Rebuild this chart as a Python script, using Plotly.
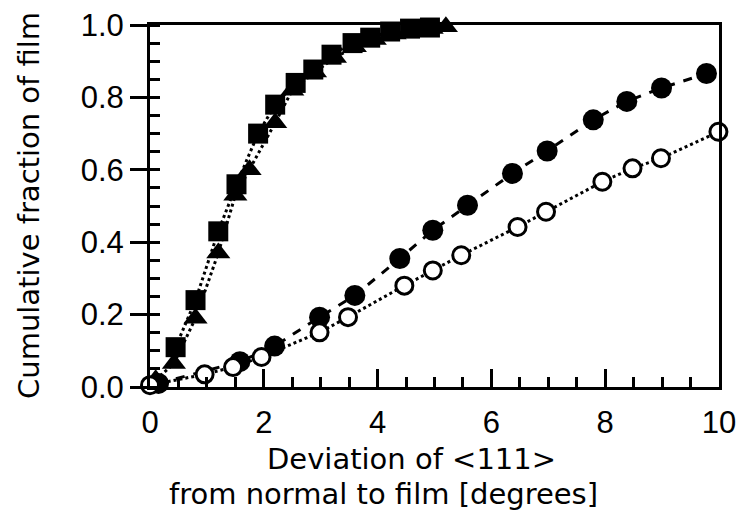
import plotly.graph_objects as go

# Data
sq_x = [0.45, 0.8, 1.2, 1.52, 1.9, 2.2, 2.56, 2.87, 3.19, 3.56, 3.87, 4.22, 4.57, 4.92]
sq_y = [0.11, 0.24, 0.43, 0.56, 0.70, 0.78, 0.84, 0.877, 0.918, 0.95, 0.965, 0.982, 0.99, 0.993]

tri_x = [0.1, 0.42, 0.8, 1.2, 1.5, 1.75, 2.2, 2.5, 2.9, 3.25, 3.6, 3.95, 4.3, 4.65, 4.95, 5.2]
tri_y = [0.02, 0.065, 0.19, 0.37, 0.53, 0.60, 0.73, 0.82, 0.87, 0.91, 0.94, 0.96, 0.975, 0.985, 0.99, 0.995]

fc_x = [0.15, 1.58, 2.19, 2.98, 3.6, 4.39, 4.97, 5.58, 6.37, 6.98, 7.79, 8.38, 8.99, 9.78]
fc_y = [0.01, 0.07, 0.113, 0.193, 0.253, 0.355, 0.433, 0.502, 0.59, 0.652, 0.738, 0.789, 0.826, 0.866]

oc_x = [0.0, 0.96, 1.46, 1.96, 2.98, 3.48, 4.47, 4.97, 5.47, 6.46, 6.96, 7.95, 8.48, 8.98, 9.99]
oc_y = [0.005, 0.035, 0.055, 0.083, 0.151, 0.193, 0.28, 0.322, 0.364, 0.442, 0.484, 0.567, 0.604, 0.632, 0.705]

x_ticks = [0, 2, 4, 6, 8, 10]
y_ticks = [0.0, 0.2, 0.4, 0.6, 0.8, 1.0]
y_tick_text = ["0.0", "0.2", "0.4", "0.6", "0.8", "1.0"]

x_title_1 = "Deviation of &lt;111&gt;"
x_title_2 = "from normal to film [degrees]"
y_title = "Cumulative fraction of film"

W, H = 741, 511
L, R, T, B = 150, 22, 25, 124
PW, PH = W - L - R, H - T - B


def px_x(fx):
    return (fx - L) / PW


def px_y(fy):
    return (T + PH - fy) / PH


fig = go.Figure()
fig.add_trace(go.Scatter(x=tri_x, y=tri_y, mode="lines+markers",
                         line=dict(color="black", width=3, dash="dot"),
                         marker=dict(symbol="triangle-up", size=21, color="black"),
                         showlegend=False, cliponaxis=False))
fig.add_trace(go.Scatter(x=sq_x, y=sq_y, mode="lines+markers",
                         line=dict(color="black", width=3, dash="dot"),
                         marker=dict(symbol="square", size=20, color="black"),
                         showlegend=False, cliponaxis=False))
fig.add_trace(go.Scatter(x=fc_x, y=fc_y, mode="lines+markers",
                         line=dict(color="black", width=3, dash="dash"),
                         marker=dict(symbol="circle", size=21, color="black"),
                         showlegend=False, cliponaxis=False))
fig.add_trace(go.Scatter(x=oc_x, y=oc_y, mode="lines+markers",
                         line=dict(color="black", width=3, dash="dot"),
                         marker=dict(symbol="circle", size=17, color="white",
                                     line=dict(color="black", width=3)),
                         showlegend=False, cliponaxis=False))

title_font = dict(size=29, family="DejaVu Sans, Verdana, sans-serif", color="black")

fig.update_layout(
    width=W, height=H,
    margin=dict(l=L, r=R, t=T, b=B),
    paper_bgcolor="white", plot_bgcolor="white",
    font=dict(family="Liberation Sans, Arial, sans-serif", color="black"),
    xaxis=dict(
        range=[0, 10], tickvals=x_ticks, ticktext=[str(v) for v in x_ticks],
        ticks="inside", ticklen=18, tickwidth=2.5, tickcolor="black",
        minor=dict(dtick=0.5, tick0=0, ticks="inside", ticklen=10, tickwidth=2.5, tickcolor="black"),
        showline=True, linewidth=3, linecolor="black", mirror=True,
        showgrid=False, zeroline=False, automargin=False,
        ticklabelstandoff=6,
        tickfont=dict(size=31, family="Liberation Sans, Arial, sans-serif"),
    ),
    yaxis=dict(
        range=[0, 1.0], tickvals=y_ticks, ticktext=y_tick_text,
        ticks="outside", ticklen=17, tickwidth=2.5, tickcolor="black",
        minor=dict(dtick=0.05, tick0=0, ticks="inside", ticklen=10, tickwidth=2.5, tickcolor="black"),
        showline=True, linewidth=3, linecolor="black", mirror=True,
        showgrid=False, zeroline=False, automargin=False,
        tickfont=dict(size=31, family="Liberation Sans, Arial, sans-serif"),
    ),
    annotations=[
        dict(text=x_title_1, xref="paper", yref="paper",
             x=px_x(411), y=px_y(459),
             xanchor="center", yanchor="middle", showarrow=False, font=title_font),
        dict(text=x_title_2, xref="paper", yref="paper",
             x=px_x(383), y=px_y(494),
             xanchor="center", yanchor="middle", showarrow=False, font=title_font),
        dict(text=y_title, xref="paper", yref="paper",
             x=px_x(29), y=px_y(206), textangle=-90,
             xanchor="center", yanchor="middle", showarrow=False,
             font=dict(size=29, family="DejaVu Sans, Verdana, sans-serif", color="black")),
    ],
)

fig.write_html("out.html", config={"displayModeBar": False},
               post_script="document.body.style.margin='0';document.body.style.overflow='hidden';")
